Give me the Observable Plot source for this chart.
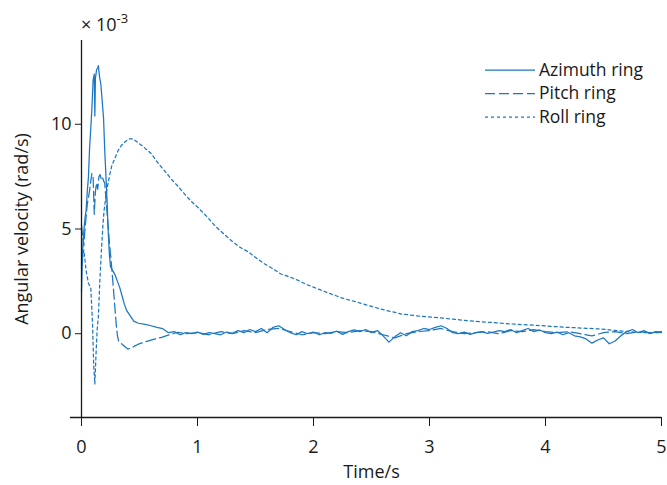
<!DOCTYPE html>
<html><head><meta charset="utf-8">
<script src="https://cdn.jsdelivr.net/npm/d3@7"></script>
<script src="https://cdn.jsdelivr.net/npm/@observablehq/plot@0.6"></script>
<style>body{margin:0;background:#fff} svg{font-family:"Open Sans",sans-serif}</style>
</head><body><div id="chart"></div>
<script>
// Azimuth ring (solid), values ×10^-3 rad/s
const azT = [0,0.01,0.02,0.03,0.04,0.05,0.06,0.07,0.08,0.09,0.1,0.11,0.115,0.12,0.13,0.14,0.145,0.155,0.167,0.18,0.19,0.2,0.21,0.22,0.23,0.24,0.25,0.27,0.29,0.31,0.33,0.35,0.37,0.39,0.42,0.45,0.49,0.55,0.6,0.65,0.7,0.75,
 0.8,0.85,0.9,0.95,1.0,1.05,1.1,1.15,1.2,1.25,1.3,1.35,1.4,1.45,1.5,1.55,1.6,1.65,1.7,1.75,1.8,1.85,1.9,1.95,2.0,2.05,2.1,2.15,2.2,2.25,2.3,2.35,2.4,2.45,2.5,2.55,2.6,2.65,2.7,2.75,2.8,2.85,2.9,2.95,3.0,3.05,3.1,3.15,3.2,3.25,3.3,3.35,3.4,3.45,3.5,3.55,3.6,3.65,3.7,3.75,3.8,3.85,3.9,3.95,4.0,4.05,4.1,4.15,4.2,4.25,4.3,4.35,4.4,4.45,4.5,4.55,4.6,4.65,4.7,4.75,4.8,4.85,4.9,4.95,5.0];
const azV = [2.0,4.0,4.9,5.5,5.9,6.8,7.5,8.9,9.8,10.8,12.1,12.4,10.4,12.2,12.6,12.7,12.8,12.3,11.9,11.0,10.3,8.8,7.6,6.4,4.9,3.8,3.2,3.0,2.8,2.5,2.2,1.8,1.4,1.1,0.85,0.6,0.5,0.45,0.38,0.3,0.24,0.05,
 0.1,-0.05,0.05,0.0,0.08,-0.03,0.05,0.0,-0.05,0.08,0.02,0.15,0.05,0.2,0.1,0.25,0.05,0.3,0.38,0.2,0.05,-0.05,0.1,0.0,0.08,-0.05,0.05,0.02,0.12,-0.03,0.1,0.18,0.1,0.2,0.05,0.15,-0.1,-0.4,-0.15,0.05,-0.1,0.1,0.15,0.25,0.2,0.3,0.38,0.25,0.05,0.0,0.08,-0.03,0.05,0.1,0.02,0.08,0.15,0.1,0.2,0.05,0.15,0.25,0.1,0.18,0.05,0.0,0.08,-0.05,0.05,-0.1,-0.15,-0.25,-0.45,-0.3,-0.2,-0.48,-0.35,-0.1,0.1,0.2,0.05,0.15,0.0,0.1,0.05];

// Pitch ring (dashed)
const pT = [0,0.01,0.02,0.03,0.04,0.05,0.06,0.07,0.08,0.09,0.1,0.11,0.12,0.13,0.14,0.15,0.16,0.17,0.18,0.19,0.2,0.21,0.22,0.23,0.24,0.25,0.26,0.27,0.28,0.29,0.3,0.31,0.32,0.34,0.36,0.38,0.4,0.43,0.46,0.49,0.53,0.57,0.62,0.69,0.76,0.83,0.9,
 1.0,1.1,1.2,1.3,1.4,1.5,1.6,1.7,1.8,1.9,2.0,2.1,2.2,2.3,2.4,2.5,2.6,2.7,2.8,2.9,3.0,3.1,3.2,3.3,3.4,3.5,3.6,3.7,3.8,3.9,4.0,4.1,4.2,4.3,4.4,4.5,4.6,4.7,4.8,4.9,5.0];
const pV = [5.2,4.6,4.2,5.0,5.6,6.2,6.5,6.85,7.3,7.65,7.5,5.7,6.8,7.2,6.9,7.5,7.6,7.4,7.5,7.3,7.2,6.5,5.8,5.1,4.4,3.8,3.2,2.5,1.8,1.1,0.4,-0.1,-0.35,-0.45,-0.55,-0.65,-0.73,-0.68,-0.58,-0.5,-0.42,-0.35,-0.27,-0.17,-0.05,0.07,0.0,
 0.05,-0.05,0.1,0.0,0.15,0.05,0.2,0.25,0.1,-0.05,0.05,0.0,0.1,0.05,0.15,0.1,-0.05,-0.2,0.0,0.1,0.15,0.25,0.1,0.0,0.05,0.1,0.0,0.15,0.1,0.2,0.1,0.05,0.1,0.0,-0.1,0.05,0.1,0.0,0.1,0.05,0.1];

// Roll ring (dotted)
const rT = [0,0.02,0.04,0.06,0.08,0.095,0.105,0.115,0.125,0.135,0.145,0.158,0.172,0.185,0.195,0.216,0.24,0.26,0.29,0.316,0.345,0.373,0.41,0.445,0.48,0.517,0.56,0.6,0.66,0.72,0.78,0.83,0.9,0.95,1.0,1.08,1.15,1.22,1.29,1.36,1.44,1.51,1.58,1.65,1.72,1.8,1.87,1.94,2.01,2.08,2.15,2.25,2.35,2.47,2.6,2.76,2.9,3.04,3.2,3.33,3.5,3.62,3.75,3.9,4.05,4.2,4.35,4.48,4.6,4.77,4.9,5.0];
const rV = [3.3,4.0,3.0,2.4,2.2,0.5,-1.5,-2.4,-1.0,0.2,0.8,2.5,4.0,5.2,5.9,6.8,7.5,8.0,8.4,8.75,9.0,9.15,9.3,9.3,9.15,9.0,8.8,8.6,8.15,7.75,7.35,7.05,6.6,6.3,6.05,5.6,5.15,4.8,4.45,4.15,3.9,3.6,3.33,3.1,2.85,2.7,2.54,2.35,2.2,2.05,1.9,1.7,1.55,1.35,1.15,0.94,0.85,0.78,0.7,0.62,0.55,0.5,0.45,0.41,0.35,0.3,0.26,0.22,0.16,0.07,0.05,0.05];

const xTicks = [0,1,2,3,4,5];
const yTicks = [0,5,10];
const seriesNames = ["Azimuth ring","Pitch ring","Roll ring"];
const dashes = [null,"10,4","3,3"];
const color = "#1c77c3";
const ink = "#1a1a1a";

const az = azT.map((t,i)=>({t, v: azV[i]}));
const pitch = pT.map((t,i)=>({t, v: pV[i]}));
const roll = rT.map((t,i)=>({t, v: rV[i]}));

const chart = Plot.plot({
  width: 667, height: 485,
  marginLeft: 81, marginRight: 6, marginTop: 40, marginBottom: 68,
  style: {fontFamily: "Open Sans", fontSize: "17.5px", color: ink, background: "white", overflow: "visible"},
  x: {domain: [0,5]},
  y: {domain: [-4,14]},
  marks: [
    Plot.line(roll, {x:"t", y:"v", stroke: color, strokeWidth: 1.25, strokeDasharray: dashes[2]}),
    Plot.line(pitch, {x:"t", y:"v", stroke: color, strokeWidth: 1.25, strokeDasharray: dashes[1]}),
    Plot.line(az, {x:"t", y:"v", stroke: color, strokeWidth: 1.25}),
    Plot.axisX({ticks: xTicks, tickFormat: d => String(d), fontSize: 18, tickSize: 9, tickPadding: 14, label: "Time/s", labelAnchor: "center", labelArrow: "none", labelOffset: 60, stroke: ink, fill: ink}),
    Plot.axisY({ticks: yTicks, tickFormat: d => String(d), fontSize: 18, tickSize: 6, tickPadding: 4, label: "Angular velocity (rad/s)", labelAnchor: "center", labelArrow: "none", labelOffset: 66, stroke: ink, fill: ink}),
    Plot.ruleY([-4], {x1: -0.095, x2: 5, stroke: ink, strokeWidth: 1.3}),
    Plot.ruleX([0], {y1: -4, y2: 14, stroke: ink, strokeWidth: 1.3})
  ]
});

const svg = d3.select(chart);
// exponent label
const ex = svg.append("text").attr("x", 81).attr("y", 31).attr("fill", ink)
  .attr("text-anchor","start").style("font-size","18px");
ex.append("tspan").text("× 10");
ex.append("tspan").attr("dy", -8).style("font-size","13px").text("-3");

// legend
const lg = svg.append("g");
const rowsY = [70, 93.5, 117];
seriesNames.forEach((name,i)=>{
  const l = lg.append("line").attr("x1",485).attr("x2",535).attr("y1",rowsY[i]).attr("y2",rowsY[i])
    .attr("stroke",color).attr("stroke-width",1.25);
  if (dashes[i]) l.attr("stroke-dasharray", dashes[i]);
  lg.append("text").attr("x",539).attr("y",rowsY[i]).attr("dy","0.32em").attr("fill",ink)
    .attr("text-anchor","start").style("font-size","17.5px").text(name);
});

document.getElementById("chart").append(chart);
</script>
</body></html>
